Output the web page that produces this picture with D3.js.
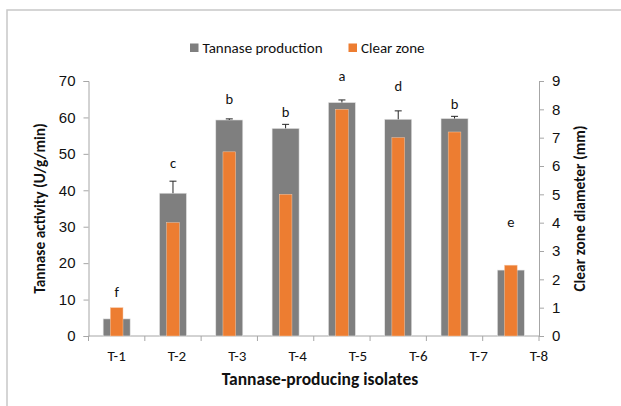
<!DOCTYPE html>
<html>
<head>
<meta charset="utf-8">
<script src="https://cdn.jsdelivr.net/npm/d3@7"></script>
<style>
  html, body { margin: 0; padding: 0; background: #fff; }
  svg { display: block; font-family: Carlito, Lato, "Open Sans", sans-serif; }
</style>
</head>
<body>
<svg id="chart" width="621" height="406"></svg>
<script>
// Isolates and measured values
const isolates = ["T-1", "T-2", "T-3", "T-4", "T-5", "T-6", "T-7", "T-8"];
const tannaseActivity = [4.7, 39.2, 59.3, 57.0, 64.1, 59.5, 59.7, 18.1];   // U/g/min
const tannaseError    = [0, 3.3, 0.3, 1.1, 0.7, 2.3, 0.6, 0];
const clearZone       = [1.0, 4.0, 6.5, 5.0, 8.0, 7.0, 7.2, 2.5];           // mm
const groupLetters    = ["f", "c", "b", "b", "a", "d", "b", "e"];
const letterLevels    = [10.6, 46.1, 63.6, 60.2, 69.9, 67.3, 62.4, 29.9];  // left-axis units
const leftTicks  = [0, 10, 20, 30, 40, 50, 60, 70];
const rightTicks = [0, 1, 2, 3, 4, 5, 6, 7, 8, 9];

const GRAY = "#7f7f7f", ORANGE = "#ed7d31", AXIS = "#a6a6a6", TEXT = "#111";

const svg = d3.select("#chart");
const m = { left: 88.5, right: 539, top: 81, bottom: 336 };

// outer chart frame
svg.append("rect").attr("x", 7).attr("y", 10).attr("width", 640).attr("height", 420)
  .attr("fill", "none").attr("stroke", "#c8c8c8").attr("stroke-width", 1.5);

const x = d3.scaleBand().domain(isolates).range([m.left, m.right]).padding(0);
const yL = d3.scaleLinear().domain([0, 70]).range([m.bottom, m.top]);
const yR = d3.scaleLinear().domain([0, 9]).range([m.bottom, m.top]);
// category labels run from the first band centre to the right axis
const xLab = d3.scalePoint().domain(isolates)
  .range([x(isolates[0]) + x.bandwidth() / 2, m.right]);

const data = isolates.map((k, i) => ({
  k, t: tannaseActivity[i], e: tannaseError[i], c: clearZone[i],
  g: groupLetters[i], lv: letterLevels[i]
}));

// left axis
const axL = svg.append("g").attr("transform", `translate(${m.left},0)`)
  .call(d3.axisLeft(yL).tickValues(leftTicks).tickSize(5).tickPadding(8));
// right axis
const axR = svg.append("g").attr("transform", `translate(${m.right},0)`)
  .call(d3.axisRight(yR).tickValues(rightTicks).tickSize(5).tickPadding(8));
[axL, axR].forEach(a => {
  a.select(".domain").attr("stroke", AXIS);
  a.selectAll(".tick line").attr("stroke", AXIS);
  a.selectAll(".tick text").attr("fill", TEXT).attr("font-size", 15);
});

// bottom axis line with band-boundary ticks
const bx = svg.append("g");
bx.append("line").attr("x1", m.left).attr("x2", m.right)
  .attr("y1", m.bottom).attr("y2", m.bottom).attr("stroke", AXIS);
const bounds = isolates.map(k => x(k)).concat([m.right]);
bx.selectAll("line.tk").data(bounds).join("line").attr("class", "tk")
  .attr("x1", d => d).attr("x2", d => d)
  .attr("y1", m.bottom).attr("y2", m.bottom + 5).attr("stroke", AXIS);
bx.selectAll("text").data(isolates).join("text")
  .attr("x", d => xLab(d)).attr("y", m.bottom + 25)
  .attr("text-anchor", "middle").attr("font-size", 15).attr("fill", TEXT)
  .text(d => d);

// tannase bars
const gw = x.bandwidth() * 0.48;
svg.append("g").selectAll("rect").data(data).join("rect")
  .attr("x", d => x(d.k) + x.bandwidth() / 2 - gw / 2)
  .attr("y", d => yL(d.t)).attr("width", gw)
  .attr("height", d => yL(0) - yL(d.t))
  .attr("fill", GRAY).attr("stroke", "#e6e6e6").attr("stroke-width", 0.6);

// clear-zone bars
const ow = x.bandwidth() * 0.225;
svg.append("g").selectAll("rect").data(data).join("rect")
  .attr("x", d => x(d.k) + x.bandwidth() / 2 - ow / 2)
  .attr("y", d => yR(d.c)).attr("width", ow)
  .attr("height", d => yR(0) - yR(d.c))
  .attr("fill", ORANGE).attr("stroke", "#f7c9a8").attr("stroke-width", 0.5);

// upper error bars on tannase activity
const eb = svg.append("g").attr("stroke", "#262626").attr("stroke-width", 1);
data.filter(d => d.e > 0).forEach(d => {
  const cx = x(d.k) + x.bandwidth() / 2;
  eb.append("line").attr("x1", cx).attr("x2", cx)
    .attr("y1", yL(d.t)).attr("y2", yL(d.t + d.e));
  eb.append("line").attr("x1", cx - 3.5).attr("x2", cx + 3.5)
    .attr("y1", yL(d.t + d.e)).attr("y2", yL(d.t + d.e));
});

// significance letters
svg.append("g").selectAll("text").data(data).join("text")
  .attr("x", d => x(d.k) + x.bandwidth() / 2).attr("y", d => yL(d.lv))
  .attr("text-anchor", "middle").attr("font-size", 14.5).attr("fill", TEXT)
  .text(d => d.g);

// axis titles
svg.append("text").attr("x", 320).attr("y", 385).attr("text-anchor", "middle")
  .attr("font-size", 17.5).attr("font-weight", "bold").attr("fill", TEXT)
  .text("Tannase-producing isolates");
svg.append("text").attr("transform", "translate(45,208.5) rotate(-90)")
  .attr("text-anchor", "middle").attr("font-size", 15.4).attr("font-weight", "bold").attr("fill", TEXT)
  .text("Tannase activity (U/g/min)");
svg.append("text").attr("transform", "translate(585,208.5) rotate(-90)")
  .attr("text-anchor", "middle").attr("font-size", 15.4).attr("font-weight", "bold").attr("fill", TEXT)
  .text("Clear zone diameter (mm)");

// legend
const legend = [{ name: "Tannase production", color: GRAY, x: 190 },
                { name: "Clear zone", color: ORANGE, x: 348.5 }];
const lg = svg.append("g").selectAll("g").data(legend).join("g")
  .attr("transform", d => `translate(${d.x},43.5)`);
lg.append("rect").attr("width", 8.5).attr("height", 8.5).attr("fill", d => d.color);
lg.append("text").attr("x", 12.5).attr("y", 9.5).attr("font-size", 15).attr("fill", TEXT)
  .text(d => d.name);
</script>
</body>
</html>
